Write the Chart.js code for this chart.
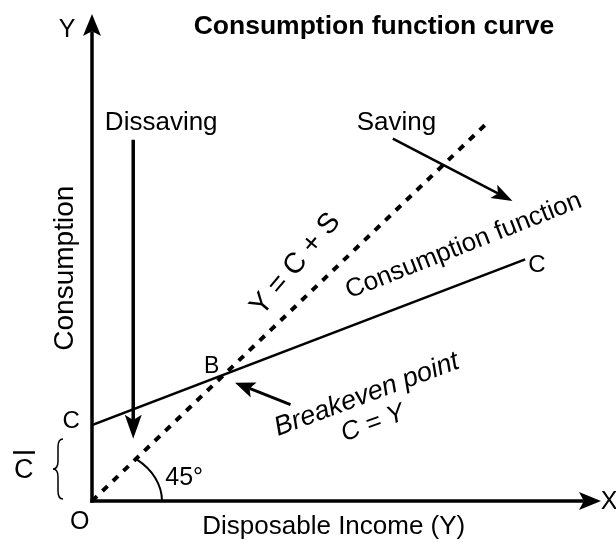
<!DOCTYPE html>
<html>
<head>
<meta charset="utf-8">
<script src="https://cdn.jsdelivr.net/npm/chart.js@4.4.0/dist/chart.umd.min.js"></script>
<style>
  html, body { margin: 0; padding: 0; background: #fff; }
  canvas { display: block; }
</style>
</head>
<body>
<canvas id="grafico" width="616" height="548"></canvas>
<script>
// Linha de 45 graus: Y = C + S
const renda45 = [0, 78];
const consumo45 = [0, 78];

// Função consumo: C = C̄ + cY
const rendaCF = [0, 85.1];
const consumoCF = [15.6, 49.6];

// Limites dos eixos
const limiteX = [0, 100];
const limiteY = [0, 100];

const fonte = '"Liberation Sans", Arial, Helvetica, sans-serif';

// Rótulos (posição em unidades do gráfico)
const rotulos = [
  { t: 'Consumption function curve', x: 55.4, y: 97.4, tam: 26.5, peso: 'bold' },
  { t: 'Y', x: -4.9, y: 96.7, tam: 25 },
  { t: 'X', x: 101.6, y: -0.3, tam: 25 },
  { t: 'O', x: -2.4, y: -4.4, tam: 25 },
  { t: 'C', x: -4.1, y: 16.3, tam: 24 },
  { t: 'C', x: 87.4, y: 48.3, tam: 24 },
  { t: 'B', x: 23.5, y: 27.5, tam: 23 },
  { t: 'Dissaving', x: 13.6, y: 77.7, tam: 26 },
  { t: 'Saving', x: 59.8, y: 77.7, tam: 26 },
  { t: 'Consumption', x: -5.2, y: 47.8, tam: 28 },
  { t: 'Disposable Income (Y)', x: 47.5, y: -5.4, tam: 26 },
  { t: '45°', x: 18.1, y: 4.7, tam: 25 },
  { t: 'C', x: -13.4, y: 6.3, tam: 27 },
  { t: 'Y = C + S', x: 40.0, y: 48.6, tam: 28.5 },
  { t: 'Consumption function', x: 73.0, y: 52.4, tam: 26 },
  { t: 'Breakeven point', x: 54.0, y: 21.8, tam: 27, estilo: 'italic' },
  { t: 'C = Y', x: 55.2, y: 15.9, tam: 26, estilo: 'italic' }
];
// ângulos dos rótulos inclinados
const angulos = { 'Consumption': -90, 'Y = C + S': -50, 'Consumption function': -21.5, 'Breakeven point': -20.5, 'C = Y': -20 };

// Setas de anotação
const setas = [
  { x1: 8.1, y1: 74.2, x2: 8.1, y2: 12.8, larg: 3.5, comp: 24, abre: 17 },
  { x1: 59.1, y1: 74.4, x2: 82.6, y2: 61.6, larg: 2.5, comp: 21, abre: 15 },
  { x1: 39.0, y1: 19.8, x2: 28.1, y2: 24.3, larg: 3, comp: 20, abre: 16 }
];

function desenharSeta(ctx, x1, y1, x2, y2, larg, comp, abre) {
  const dx = x2 - x1, dy = y2 - y1;
  const d = Math.hypot(dx, dy);
  const ux = dx / d, uy = dy / d;
  const nx = -uy, ny = ux;
  const bx = x2 - ux * comp, by = y2 - uy * comp;
  const mx = x2 - ux * comp * 0.78, my = y2 - uy * comp * 0.78;
  ctx.beginPath();
  ctx.lineWidth = larg;
  ctx.lineCap = 'butt';
  ctx.moveTo(x1, y1);
  ctx.lineTo(mx, my);
  ctx.stroke();
  ctx.beginPath();
  ctx.moveTo(x2, y2);
  ctx.lineTo(bx + nx * abre / 2, by + ny * abre / 2);
  ctx.lineTo(mx, my);
  ctx.lineTo(bx - nx * abre / 2, by - ny * abre / 2);
  ctx.closePath();
  ctx.fill();
}

const pluginDiagrama = {
  id: 'diagrama',
  beforeDraw(chart) {
    const ctx = chart.ctx;
    ctx.save();
    ctx.fillStyle = '#fff';
    ctx.fillRect(0, 0, chart.width, chart.height);
    ctx.restore();
  },
  afterDatasetsDraw(chart) {
    const ctx = chart.ctx;
    const sx = chart.scales.x, sy = chart.scales.y;
    const px = v => sx.getPixelForValue(v);
    const py = v => sy.getPixelForValue(v);
    const ox = px(0), oy = py(0);

    ctx.save();
    ctx.strokeStyle = '#000';
    ctx.fillStyle = '#000';

    // eixos com setas
    desenharSeta(ctx, ox, oy + 1.75, ox, py(limiteY[1]), 3.5, 22, 18);
    desenharSeta(ctx, ox - 1.75, oy, px(limiteX[1]), oy, 3.5, 22, 18);

    // setas de anotação
    setas.forEach(s => desenharSeta(ctx, px(s.x1), py(s.y1), px(s.x2), py(s.y2), s.larg, s.comp, s.abre));

    // arco de 45°
    ctx.beginPath();
    ctx.lineWidth = 2;
    ctx.ellipse(ox, oy, 70, 54, 0, -50 * Math.PI / 180, 0);
    ctx.stroke();

    // chave do C̄
    const bxr = ox - 29, bxm = ox - 34, bxl = ox - 39;
    const yt = py(consumoCF[0]) + 14, yb = oy - 2, ym = (yt + yb) / 2;
    ctx.beginPath();
    ctx.lineWidth = 1.5;
    ctx.moveTo(bxr, yt);
    ctx.quadraticCurveTo(bxm, yt, bxm, yt + 8);
    ctx.lineTo(bxm, ym - 8);
    ctx.quadraticCurveTo(bxm, ym, bxl, ym);
    ctx.quadraticCurveTo(bxm, ym, bxm, ym + 8);
    ctx.lineTo(bxm, yb - 8);
    ctx.quadraticCurveTo(bxm, yb, bxr, yb);
    ctx.stroke();

    // barra sobre o C̄
    ctx.beginPath();
    ctx.lineWidth = 2.5;
    ctx.moveTo(ox - 79, oy - 48.5);
    ctx.lineTo(ox - 57, oy - 48.5);
    ctx.stroke();

    // textos
    ctx.textAlign = 'center';
    ctx.textBaseline = 'middle';
    rotulos.forEach(r => {
      ctx.save();
      ctx.translate(px(r.x), py(r.y));
      const ang = angulos[r.t];
      if (ang && !(r.t === 'Consumption' && r.y < 0)) ctx.rotate(ang * Math.PI / 180);
      ctx.font = `${r.estilo || 'normal'} ${r.peso || 'normal'} ${r.tam}px ${fonte}`;
      ctx.fillText(r.t, 0, 0);
      ctx.restore();
    });
    ctx.restore();
  }
};

const ctx = document.getElementById('grafico').getContext('2d');

const grafico = new Chart(ctx, {
  type: 'scatter',
  data: {
    datasets: [
      {
        label: 'Y = C + S',
        data: renda45.map((x, i) => ({ x: x, y: consumo45[i] })),
        showLine: true,
        borderColor: '#000',
        borderWidth: 4,
        borderDash: [7, 7.5],
        borderCapStyle: 'butt',
        pointRadius: 0,
        fill: false
      },
      {
        label: 'Consumption function',
        data: rendaCF.map((x, i) => ({ x: x, y: consumoCF[i] })),
        showLine: true,
        borderColor: '#000',
        borderWidth: 2.5,
        pointRadius: 0,
        fill: false
      }
    ]
  },
  options: {
    responsive: false,
    animation: false,
    layout: { padding: { left: 92, right: 15, top: 14, bottom: 47 } },
    plugins: {
      legend: { display: false },
      tooltip: { enabled: false }
    },
    scales: {
      x: { type: 'linear', min: limiteX[0], max: limiteX[1], display: false },
      y: { type: 'linear', min: limiteY[0], max: limiteY[1], display: false }
    }
  },
  plugins: [pluginDiagrama]
});
</script>
</body>
</html>
